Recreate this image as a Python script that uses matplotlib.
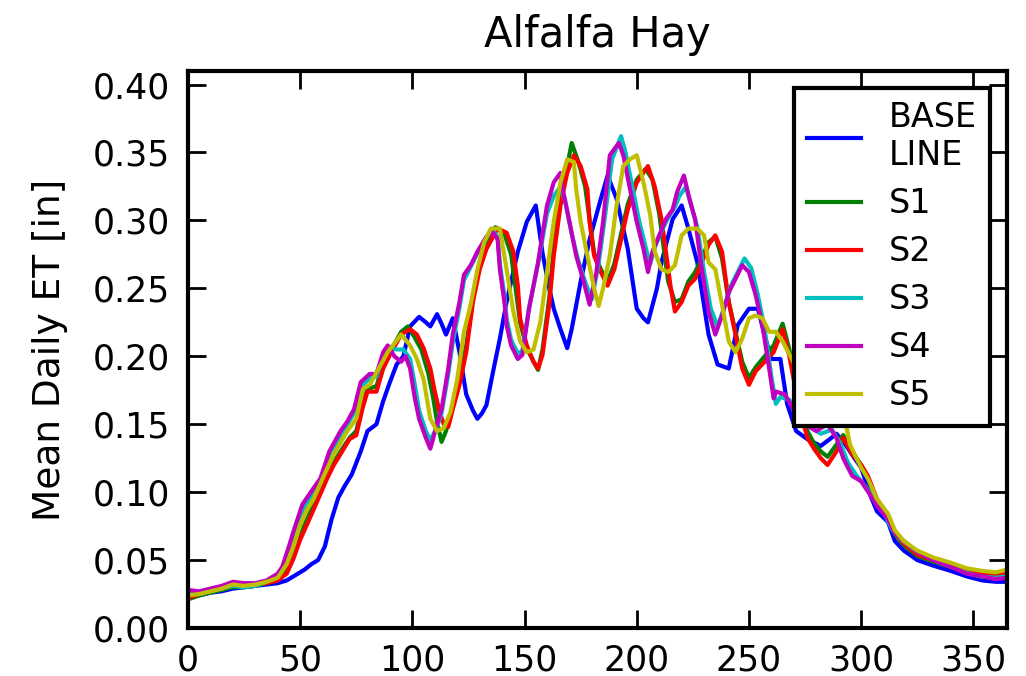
import numpy as np
import matplotlib.pyplot as plt

plt.rcParams['font.family'] = 'DejaVu Sans'
plt.rcParams['font.size'] = 25

# mean daily ET [in] per day of year
base_days = [0, 5, 10, 15, 20, 25, 30, 35, 40, 44, 48, 52, 55, 58, 61, 64, 67, 70, 73, 77, 80, 84, 87, 90, 93, 96,
             99, 103, 106, 108, 111, 113, 115, 118, 121, 124, 127, 129, 131, 133, 136, 139, 142, 147, 151, 155, 158,
             161, 163, 166, 169, 171, 175, 179, 184, 187, 191, 196, 200, 203, 205, 209, 211, 216, 220, 223, 227, 232,
             236, 241, 245, 250, 254, 257, 260, 264, 267, 271, 276, 282, 286, 289, 293, 297, 300, 304, 307, 312, 315,
             319, 325, 332, 340, 347, 354, 360, 365]
base_et = [0.022, 0.024, 0.026, 0.027, 0.029, 0.030, 0.031, 0.032, 0.033, 0.035, 0.039, 0.043, 0.047, 0.050, 0.060,
           0.080, 0.096, 0.105, 0.113, 0.130, 0.145, 0.150, 0.167, 0.181, 0.194, 0.200, 0.222, 0.229, 0.225, 0.222,
           0.231, 0.224, 0.216, 0.228, 0.203, 0.172, 0.160, 0.154, 0.158, 0.164, 0.189, 0.213, 0.240, 0.277, 0.299,
           0.311, 0.276, 0.250, 0.235, 0.220, 0.206, 0.220, 0.255, 0.286, 0.316, 0.333, 0.316, 0.279, 0.235, 0.228,
           0.225, 0.250, 0.269, 0.301, 0.311, 0.294, 0.269, 0.216, 0.194, 0.191, 0.223, 0.235, 0.235, 0.215, 0.198,
           0.198, 0.165, 0.145, 0.139, 0.134, 0.139, 0.143, 0.135, 0.125, 0.118, 0.098, 0.086, 0.078, 0.064, 0.057,
           0.050, 0.046, 0.042, 0.038, 0.035, 0.034, 0.034]

s1_days = [0, 5, 10, 15, 20, 25, 30, 35, 40, 44, 47, 50, 53, 57, 62, 65, 68, 72, 75, 78, 80, 84, 87, 90, 95, 98, 101,
           104, 107, 109, 111, 113, 115, 118, 121, 124, 127, 130, 133, 137, 141, 144, 146, 148, 151, 154, 156, 158,
           161, 163, 166, 169, 171, 174, 177, 179, 181, 184, 187, 190, 193, 196, 200, 204, 207, 210, 212, 214, 217,
           220, 223, 226, 229, 232, 235, 238, 241, 244, 247, 250, 253, 257, 261, 265, 268, 272, 276, 279, 282, 285,
           289, 292, 296, 300, 303, 307, 312, 315, 319, 325, 332, 340, 347, 354, 360, 365]
s1_et = [0.021, 0.024, 0.026, 0.028, 0.030, 0.030, 0.031, 0.033, 0.035, 0.042, 0.055, 0.068, 0.080, 0.094, 0.112,
         0.122, 0.130, 0.140, 0.145, 0.166, 0.176, 0.178, 0.194, 0.203, 0.218, 0.222, 0.214, 0.205, 0.188, 0.172,
         0.152, 0.137, 0.145, 0.163, 0.183, 0.208, 0.243, 0.266, 0.281, 0.295, 0.290, 0.275, 0.250, 0.225, 0.206,
         0.196, 0.190, 0.205, 0.243, 0.280, 0.316, 0.340, 0.357, 0.343, 0.325, 0.300, 0.276, 0.264, 0.255, 0.268,
         0.290, 0.312, 0.330, 0.338, 0.330, 0.305, 0.280, 0.255, 0.240, 0.242, 0.255, 0.262, 0.272, 0.284, 0.288,
         0.272, 0.240, 0.218, 0.196, 0.184, 0.192, 0.200, 0.208, 0.224, 0.205, 0.170, 0.145, 0.136, 0.130, 0.126,
         0.135, 0.142, 0.130, 0.120, 0.111, 0.094, 0.082, 0.069, 0.061, 0.053, 0.049, 0.045, 0.041, 0.039, 0.038,
         0.039]

s2_days = [0, 5, 10, 15, 20, 25, 30, 35, 40, 44, 47, 50, 53, 57, 62, 65, 68, 72, 75, 78, 80, 84, 87, 90, 95, 99, 102,
           105, 108, 110, 112, 114, 116, 118, 121, 124, 127, 130, 133, 138, 142, 145, 147, 148, 151, 154, 156, 158,
           161, 163, 166, 169, 172, 175, 178, 179, 181, 184, 187, 190, 193, 196, 200, 205, 208, 211, 213, 215, 217,
           220, 223, 226, 229, 232, 235, 238, 241, 244, 247, 250, 253, 257, 261, 265, 268, 272, 276, 279, 282, 285,
           289, 292, 296, 300, 303, 307, 312, 315, 319, 325, 332, 340, 347, 354, 360, 365]
s2_et = [0.022, 0.025, 0.027, 0.029, 0.031, 0.031, 0.032, 0.033, 0.035, 0.040, 0.051, 0.065, 0.076, 0.091, 0.110,
         0.120, 0.128, 0.139, 0.142, 0.163, 0.174, 0.174, 0.191, 0.201, 0.216, 0.220, 0.216, 0.206, 0.191, 0.174,
         0.160, 0.150, 0.148, 0.161, 0.179, 0.203, 0.240, 0.264, 0.279, 0.294, 0.291, 0.277, 0.252, 0.228, 0.208,
         0.196, 0.191, 0.201, 0.238, 0.274, 0.311, 0.335, 0.348, 0.340, 0.323, 0.299, 0.274, 0.262, 0.252, 0.264,
         0.286, 0.308, 0.328, 0.340, 0.325, 0.301, 0.277, 0.252, 0.233, 0.240, 0.252, 0.257, 0.269, 0.282, 0.289,
         0.277, 0.240, 0.216, 0.191, 0.179, 0.189, 0.196, 0.203, 0.220, 0.200, 0.165, 0.140, 0.132, 0.125, 0.120,
         0.130, 0.140, 0.128, 0.120, 0.112, 0.095, 0.083, 0.070, 0.062, 0.054, 0.050, 0.046, 0.042, 0.040, 0.039,
         0.040]

s3_days = [0, 5, 10, 15, 20, 25, 30, 35, 40, 42, 45, 47, 51, 56, 59, 63, 68, 71, 74, 77, 81, 84, 87, 90, 93, 96, 99,
           101, 103, 106, 108, 111, 113, 116, 118, 121, 123, 126, 129, 133, 136, 138, 139, 141, 142, 144, 147, 149,
           152, 156, 160, 163, 166, 168, 171, 174, 177, 180, 183, 186, 189, 193, 195, 198, 201, 204, 206, 208, 211,
           214, 217, 219, 222, 224, 227, 230, 233, 236, 239, 242, 245, 248, 251, 254, 257, 260, 262, 264, 268, 272,
           277, 282, 287, 291, 294, 298, 302, 306, 310, 314, 318, 324, 331, 339, 346, 353, 360, 365]
s3_et = [0.025, 0.025, 0.027, 0.029, 0.031, 0.030, 0.031, 0.034, 0.038, 0.043, 0.056, 0.066, 0.086, 0.100, 0.108,
         0.126, 0.142, 0.150, 0.158, 0.177, 0.184, 0.185, 0.200, 0.207, 0.205, 0.205, 0.198, 0.180, 0.160, 0.145,
         0.138, 0.148, 0.158, 0.187, 0.210, 0.236, 0.256, 0.266, 0.276, 0.288, 0.292, 0.288, 0.268, 0.245, 0.228,
         0.212, 0.202, 0.204, 0.236, 0.268, 0.305, 0.318, 0.325, 0.315, 0.290, 0.270, 0.255, 0.242, 0.268, 0.305,
         0.345, 0.362, 0.350, 0.325, 0.300, 0.280, 0.268, 0.280, 0.292, 0.302, 0.310, 0.318, 0.325, 0.312, 0.295,
         0.262, 0.235, 0.222, 0.236, 0.252, 0.262, 0.272, 0.265, 0.245, 0.220, 0.185, 0.165, 0.170, 0.168, 0.158,
         0.148, 0.143, 0.146, 0.135, 0.122, 0.112, 0.104, 0.094, 0.085, 0.072, 0.065, 0.057, 0.051, 0.046, 0.041,
         0.038, 0.037, 0.038]

s4_days = [0, 5, 10, 15, 20, 25, 30, 35, 40, 42, 45, 47, 51, 56, 59, 63, 68, 71, 74, 77, 81, 84, 87, 89, 92, 95, 97,
           99, 101, 103, 106, 108, 111, 113, 116, 118, 121, 123, 126, 129, 133, 136, 138, 139, 141, 142, 144, 147,
           149, 152, 156, 160, 163, 166, 167, 170, 173, 176, 179, 182, 185, 188, 192, 194, 197, 200, 203, 205, 207,
           210, 213, 216, 218, 221, 223, 226, 229, 232, 235, 238, 241, 244, 247, 250, 253, 256, 259, 261, 262, 266,
           270, 275, 280, 285, 289, 292, 296, 300, 304, 307, 312, 315, 319, 325, 332, 340, 347, 354, 360, 365]
s4_et = [0.028, 0.027, 0.029, 0.031, 0.034, 0.033, 0.033, 0.035, 0.040, 0.045, 0.060, 0.071, 0.091, 0.103, 0.110,
         0.130, 0.145, 0.152, 0.161, 0.181, 0.187, 0.187, 0.203, 0.208, 0.200, 0.196, 0.200, 0.191, 0.170, 0.154,
         0.140, 0.132, 0.150, 0.161, 0.191, 0.216, 0.240, 0.260, 0.267, 0.277, 0.288, 0.291, 0.286, 0.264, 0.240,
         0.223, 0.208, 0.198, 0.201, 0.235, 0.269, 0.311, 0.328, 0.335, 0.323, 0.299, 0.274, 0.257, 0.238, 0.262,
         0.299, 0.348, 0.357, 0.348, 0.323, 0.299, 0.279, 0.262, 0.277, 0.289, 0.301, 0.308, 0.321, 0.333, 0.319,
         0.301, 0.264, 0.233, 0.216, 0.230, 0.247, 0.257, 0.267, 0.262, 0.245, 0.223, 0.191, 0.169, 0.174, 0.172,
         0.160, 0.150, 0.145, 0.150, 0.140, 0.125, 0.112, 0.108, 0.098, 0.090, 0.080, 0.070, 0.064, 0.056, 0.050,
         0.045, 0.040, 0.038, 0.036, 0.037]

s5_days = [0, 5, 10, 15, 20, 25, 30, 35, 40, 44, 47, 50, 53, 56, 60, 65, 71, 75, 78, 81, 86, 89, 95, 99, 102, 105,
           108, 111, 114, 117, 120, 123, 126, 129, 132, 135, 139, 142, 145, 148, 151, 154, 157, 160, 163, 166, 169,
           172, 173, 175, 178, 181, 183, 185, 188, 191, 194, 197, 200, 203, 206, 208, 211, 214, 217, 220, 223, 227,
           230, 232, 235, 238, 241, 244, 247, 250, 253, 256, 259, 262, 265, 270, 276, 282, 287, 292, 295, 300, 303,
           307, 312, 315, 319, 325, 332, 340, 347, 354, 360, 365]
s5_et = [0.024, 0.025, 0.027, 0.029, 0.032, 0.031, 0.032, 0.034, 0.037, 0.047, 0.060, 0.076, 0.087, 0.095, 0.110,
         0.128, 0.145, 0.154, 0.176, 0.179, 0.194, 0.203, 0.216, 0.208, 0.198, 0.183, 0.154, 0.145, 0.147, 0.159,
         0.183, 0.218, 0.238, 0.264, 0.284, 0.294, 0.294, 0.264, 0.233, 0.211, 0.203, 0.205, 0.225, 0.262, 0.299,
         0.328, 0.345, 0.343, 0.323, 0.299, 0.274, 0.250, 0.237, 0.250, 0.274, 0.311, 0.340, 0.345, 0.348, 0.328,
         0.304, 0.277, 0.264, 0.262, 0.267, 0.289, 0.294, 0.294, 0.289, 0.269, 0.264, 0.238, 0.211, 0.203, 0.213,
         0.228, 0.230, 0.228, 0.218, 0.218, 0.211, 0.195, 0.175, 0.165, 0.170, 0.160, 0.135, 0.118, 0.110, 0.095,
         0.084, 0.072, 0.064, 0.057, 0.052, 0.048, 0.044, 0.042, 0.041, 0.043]

series = [
    (base_days, base_et, 'b', 'BASE\nLINE'),
    (s1_days, s1_et, 'g', 'S1'),
    (s2_days, s2_et, 'r', 'S2'),
    (s3_days, s3_et, 'c', 'S3'),
    (s4_days, s4_et, 'm', 'S4'),
    (s5_days, s5_et, 'y', 'S5'),
]
colors = {'b': '#0000ff', 'g': '#008000', 'r': '#ff0000', 'c': '#00bfbf', 'm': '#bf00bf', 'y': '#bfbf00'}

fig = plt.figure(figsize=(10.26, 6.76), dpi=100)
ax = fig.add_axes([0.1832, 0.071, 0.7983, 0.824])

for d, v, c, lab in series:
    ax.plot(d, v, color=colors[c], lw=3.0, label=lab)

ax.set_xlim(0, 365)
ax.set_ylim(0, 0.41)
ax.set_xticks(np.arange(0, 351, 50))
ax.set_yticks(np.arange(0, 0.401, 0.05))
ax.set_yticklabels(['%.2f' % t for t in np.arange(0, 0.401, 0.05)])
ax.tick_params(direction='in', top=True, right=True, length=13, width=2)
ax.tick_params(axis='y', pad=13)
ax.tick_params(axis='x', pad=11)
for sp in ax.spines.values():
    sp.set_linewidth(3)

ax.set_title('Alfalfa Hay', fontsize=30, pad=17)
ax.set_ylabel('Mean Daily ET [in]', fontsize=27, labelpad=18)

leg = ax.legend(loc='upper right', fontsize=24, fancybox=False, framealpha=1, edgecolor='black',
                handlelength=1.6, handletextpad=0.85, labelspacing=0.45, borderaxespad=0.5, borderpad=0.4)
leg.get_frame().set_linewidth(3)

fig.savefig('out.png', dpi=100)
